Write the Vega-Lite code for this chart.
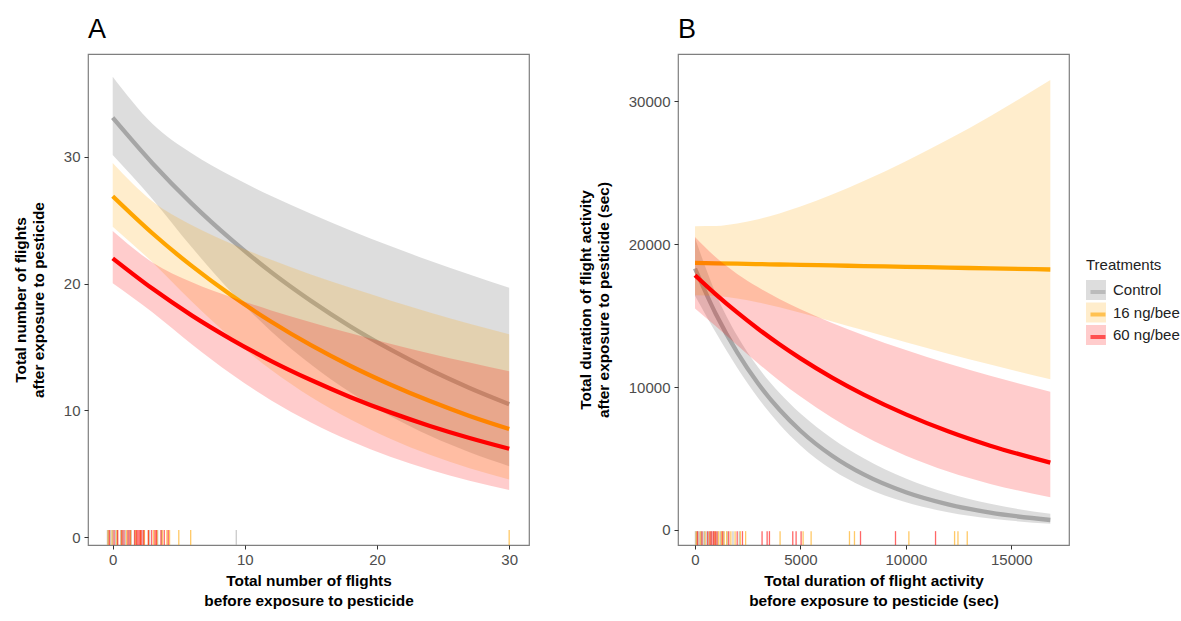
{
  "$schema": "https://vega.github.io/schema/vega-lite/v6.json",
  "background": "white",
  "padding": {"left": 13, "top": 15, "right": 0, "bottom": 0},
  "datasets": {
    "curvesA": [
      {"treatment": "Control", "x": 0, "fit": 33.10, "lo": 30.15, "hi": 36.34},
      {"treatment": "Control", "x": 3, "fit": 29.51, "lo": 26.69, "hi": 32.63},
      {"treatment": "Control", "x": 6, "fit": 26.30, "lo": 22.85, "hi": 30.27},
      {"treatment": "Control", "x": 9, "fit": 23.45, "lo": 19.31, "hi": 28.48},
      {"treatment": "Control", "x": 12, "fit": 20.90, "lo": 16.23, "hi": 26.92},
      {"treatment": "Control", "x": 15, "fit": 18.64, "lo": 13.62, "hi": 25.52},
      {"treatment": "Control", "x": 18, "fit": 16.61, "lo": 11.40, "hi": 24.20},
      {"treatment": "Control", "x": 21, "fit": 14.81, "lo": 9.55, "hi": 22.97},
      {"treatment": "Control", "x": 24, "fit": 13.20, "lo": 7.99, "hi": 21.81},
      {"treatment": "Control", "x": 27, "fit": 11.77, "lo": 6.69, "hi": 20.72},
      {"treatment": "Control", "x": 30, "fit": 10.49, "lo": 5.59, "hi": 19.68},
      {"treatment": "16 ng/bee", "x": 0, "fit": 26.90, "lo": 24.50, "hi": 29.53},
      {"treatment": "16 ng/bee", "x": 3, "fit": 23.98, "lo": 21.69, "hi": 26.51},
      {"treatment": "16 ng/bee", "x": 6, "fit": 21.38, "lo": 18.58, "hi": 24.61},
      {"treatment": "16 ng/bee", "x": 9, "fit": 19.06, "lo": 15.69, "hi": 23.15},
      {"treatment": "16 ng/bee", "x": 12, "fit": 16.99, "lo": 13.19, "hi": 21.88},
      {"treatment": "16 ng/bee", "x": 15, "fit": 15.14, "lo": 11.06, "hi": 20.73},
      {"treatment": "16 ng/bee", "x": 18, "fit": 13.50, "lo": 9.27, "hi": 19.67},
      {"treatment": "16 ng/bee", "x": 21, "fit": 12.04, "lo": 7.76, "hi": 18.68},
      {"treatment": "16 ng/bee", "x": 24, "fit": 10.73, "lo": 6.49, "hi": 17.73},
      {"treatment": "16 ng/bee", "x": 27, "fit": 9.56, "lo": 5.43, "hi": 16.83},
      {"treatment": "16 ng/bee", "x": 30, "fit": 8.53, "lo": 4.55, "hi": 16.00},
      {"treatment": "60 ng/bee", "x": 0, "fit": 22.00, "lo": 20.04, "hi": 24.15},
      {"treatment": "60 ng/bee", "x": 3, "fit": 19.61, "lo": 17.74, "hi": 21.68},
      {"treatment": "60 ng/bee", "x": 6, "fit": 17.48, "lo": 15.19, "hi": 20.12},
      {"treatment": "60 ng/bee", "x": 9, "fit": 15.59, "lo": 12.84, "hi": 18.93},
      {"treatment": "60 ng/bee", "x": 12, "fit": 13.89, "lo": 10.78, "hi": 17.89},
      {"treatment": "60 ng/bee", "x": 15, "fit": 12.39, "lo": 9.05, "hi": 16.96},
      {"treatment": "60 ng/bee", "x": 18, "fit": 11.04, "lo": 7.58, "hi": 16.08},
      {"treatment": "60 ng/bee", "x": 21, "fit": 9.84, "lo": 6.34, "hi": 15.26},
      {"treatment": "60 ng/bee", "x": 24, "fit": 8.77, "lo": 5.31, "hi": 14.49},
      {"treatment": "60 ng/bee", "x": 27, "fit": 7.82, "lo": 4.44, "hi": 13.77},
      {"treatment": "60 ng/bee", "x": 30, "fit": 6.97, "lo": 3.72, "hi": 13.08}
    ],
    "curvesB": [
      {"treatment": "Control", "x": 0, "fit": 18300, "lo": 16393, "hi": 20428},
      {"treatment": "Control", "x": 1000, "fit": 15078, "lo": 13780, "hi": 16498},
      {"treatment": "Control", "x": 2000, "fit": 12423, "lo": 11353, "hi": 13593},
      {"treatment": "Control", "x": 3000, "fit": 10235, "lo": 9215, "hi": 11368},
      {"treatment": "Control", "x": 4000, "fit": 8433, "lo": 7405, "hi": 9603},
      {"treatment": "Control", "x": 5000, "fit": 6948, "lo": 5920, "hi": 8153},
      {"treatment": "Control", "x": 6500, "fit": 5196, "lo": 4212, "hi": 6410},
      {"treatment": "Control", "x": 8000, "fit": 3886, "lo": 3011, "hi": 5015},
      {"treatment": "Control", "x": 10000, "fit": 2638, "lo": 1935, "hi": 3597},
      {"treatment": "Control", "x": 12000, "fit": 1790, "lo": 1249, "hi": 2566},
      {"treatment": "Control", "x": 14000, "fit": 1215, "lo": 806, "hi": 1831},
      {"treatment": "Control", "x": 16850, "fit": 700, "lo": 433, "hi": 1131},
      {"treatment": "16 ng/bee", "x": 0, "fit": 18690, "lo": 16432, "hi": 21260},
      {"treatment": "16 ng/bee", "x": 1000, "fit": 18663, "lo": 16375, "hi": 21271},
      {"treatment": "16 ng/bee", "x": 2000, "fit": 18636, "lo": 16198, "hi": 21441},
      {"treatment": "16 ng/bee", "x": 3000, "fit": 18608, "lo": 15925, "hi": 21743},
      {"treatment": "16 ng/bee", "x": 4000, "fit": 18581, "lo": 15586, "hi": 22152},
      {"treatment": "16 ng/bee", "x": 5000, "fit": 18554, "lo": 15206, "hi": 22639},
      {"treatment": "16 ng/bee", "x": 6500, "fit": 18513, "lo": 14596, "hi": 23480},
      {"treatment": "16 ng/bee", "x": 8000, "fit": 18472, "lo": 13971, "hi": 24423},
      {"treatment": "16 ng/bee", "x": 10000, "fit": 18417, "lo": 13142, "hi": 25810},
      {"treatment": "16 ng/bee", "x": 12000, "fit": 18362, "lo": 12339, "hi": 27324},
      {"treatment": "16 ng/bee", "x": 14000, "fit": 18308, "lo": 11574, "hi": 28960},
      {"treatment": "16 ng/bee", "x": 16850, "fit": 18230, "lo": 10552, "hi": 31496},
      {"treatment": "60 ng/bee", "x": 0, "fit": 17830, "lo": 15501, "hi": 20510},
      {"treatment": "60 ng/bee", "x": 1000, "fit": 16475, "lo": 14236, "hi": 19067},
      {"treatment": "60 ng/bee", "x": 2000, "fit": 15224, "lo": 12932, "hi": 17923},
      {"treatment": "60 ng/bee", "x": 3000, "fit": 14068, "lo": 11655, "hi": 16981},
      {"treatment": "60 ng/bee", "x": 4000, "fit": 12999, "lo": 10448, "hi": 16173},
      {"treatment": "60 ng/bee", "x": 5000, "fit": 12012, "lo": 9335, "hi": 15456},
      {"treatment": "60 ng/bee", "x": 6500, "fit": 10669, "lo": 7853, "hi": 14494},
      {"treatment": "60 ng/bee", "x": 8000, "fit": 9477, "lo": 6589, "hi": 13631},
      {"treatment": "60 ng/bee", "x": 10000, "fit": 8092, "lo": 5201, "hi": 12589},
      {"treatment": "60 ng/bee", "x": 12000, "fit": 6909, "lo": 4098, "hi": 11648},
      {"treatment": "60 ng/bee", "x": 14000, "fit": 5900, "lo": 3227, "hi": 10788},
      {"treatment": "60 ng/bee", "x": 16850, "fit": 4710, "lo": 2292, "hi": 9678}
    ],
    "rugA": [
      {"treatment": "Control", "x": -0.4}, {"treatment": "Control", "x": -0.3}, {"treatment": "Control", "x": -0.15},
      {"treatment": "Control", "x": 0.0}, {"treatment": "Control", "x": 0.2}, {"treatment": "Control", "x": 0.35},
      {"treatment": "Control", "x": 0.6}, {"treatment": "Control", "x": 0.75}, {"treatment": "Control", "x": 0.95},
      {"treatment": "Control", "x": 1.2}, {"treatment": "Control", "x": 1.4}, {"treatment": "Control", "x": 1.7},
      {"treatment": "Control", "x": 2.3}, {"treatment": "Control", "x": 2.8}, {"treatment": "Control", "x": 3.4},
      {"treatment": "Control", "x": 3.7}, {"treatment": "Control", "x": 9.35},
      {"treatment": "16 ng/bee", "x": -0.35}, {"treatment": "16 ng/bee", "x": -0.05}, {"treatment": "16 ng/bee", "x": 0.3},
      {"treatment": "16 ng/bee", "x": 0.65}, {"treatment": "16 ng/bee", "x": 1.05}, {"treatment": "16 ng/bee", "x": 1.35},
      {"treatment": "16 ng/bee", "x": 1.75}, {"treatment": "16 ng/bee", "x": 2.1}, {"treatment": "16 ng/bee", "x": 2.4},
      {"treatment": "16 ng/bee", "x": 2.7}, {"treatment": "16 ng/bee", "x": 3.1}, {"treatment": "16 ng/bee", "x": 3.35},
      {"treatment": "16 ng/bee", "x": 3.75}, {"treatment": "16 ng/bee", "x": 4.1}, {"treatment": "16 ng/bee", "x": 4.3},
      {"treatment": "16 ng/bee", "x": 5.0}, {"treatment": "16 ng/bee", "x": 5.9}, {"treatment": "16 ng/bee", "x": 30.0},
      {"treatment": "60 ng/bee", "x": -0.25}, {"treatment": "60 ng/bee", "x": 0.1}, {"treatment": "60 ng/bee", "x": 0.38},
      {"treatment": "60 ng/bee", "x": 0.7}, {"treatment": "60 ng/bee", "x": 0.85}, {"treatment": "60 ng/bee", "x": 1.15},
      {"treatment": "60 ng/bee", "x": 1.3}, {"treatment": "60 ng/bee", "x": 1.65}, {"treatment": "60 ng/bee", "x": 1.8},
      {"treatment": "60 ng/bee", "x": 1.9}, {"treatment": "60 ng/bee", "x": 2.0}, {"treatment": "60 ng/bee", "x": 2.1},
      {"treatment": "60 ng/bee", "x": 2.2}, {"treatment": "60 ng/bee", "x": 2.35}, {"treatment": "60 ng/bee", "x": 2.7},
      {"treatment": "60 ng/bee", "x": 2.95}, {"treatment": "60 ng/bee", "x": 3.2}, {"treatment": "60 ng/bee", "x": 3.3},
      {"treatment": "60 ng/bee", "x": 3.65}, {"treatment": "60 ng/bee", "x": 3.9}, {"treatment": "60 ng/bee", "x": 4.2}
    ],
    "rugB": [
      {"treatment": "Control", "x": 20}, {"treatment": "Control", "x": 80}, {"treatment": "Control", "x": 150},
      {"treatment": "Control", "x": 230}, {"treatment": "Control", "x": 300}, {"treatment": "Control", "x": 380},
      {"treatment": "Control", "x": 450}, {"treatment": "Control", "x": 560}, {"treatment": "Control", "x": 650},
      {"treatment": "Control", "x": 780}, {"treatment": "Control", "x": 900}, {"treatment": "Control", "x": 1050},
      {"treatment": "Control", "x": 1200}, {"treatment": "Control", "x": 1350}, {"treatment": "Control", "x": 1550},
      {"treatment": "Control", "x": 1800}, {"treatment": "Control", "x": 2100},
      {"treatment": "16 ng/bee", "x": 60}, {"treatment": "16 ng/bee", "x": 250}, {"treatment": "16 ng/bee", "x": 480},
      {"treatment": "16 ng/bee", "x": 700}, {"treatment": "16 ng/bee", "x": 950}, {"treatment": "16 ng/bee", "x": 1120},
      {"treatment": "16 ng/bee", "x": 1250}, {"treatment": "16 ng/bee", "x": 1380}, {"treatment": "16 ng/bee", "x": 1500},
      {"treatment": "16 ng/bee", "x": 1700}, {"treatment": "16 ng/bee", "x": 1900}, {"treatment": "16 ng/bee", "x": 2150},
      {"treatment": "16 ng/bee", "x": 2400}, {"treatment": "16 ng/bee", "x": 4034}, {"treatment": "16 ng/bee", "x": 5126},
      {"treatment": "16 ng/bee", "x": 5506}, {"treatment": "16 ng/bee", "x": 7325}, {"treatment": "16 ng/bee", "x": 7562},
      {"treatment": "16 ng/bee", "x": 10142}, {"treatment": "16 ng/bee", "x": 12310}, {"treatment": "16 ng/bee", "x": 12470},
      {"treatment": "16 ng/bee", "x": 12910},
      {"treatment": "60 ng/bee", "x": 120}, {"treatment": "60 ng/bee", "x": 330}, {"treatment": "60 ng/bee", "x": 600},
      {"treatment": "60 ng/bee", "x": 720}, {"treatment": "60 ng/bee", "x": 800}, {"treatment": "60 ng/bee", "x": 880},
      {"treatment": "60 ng/bee", "x": 960}, {"treatment": "60 ng/bee", "x": 1040}, {"treatment": "60 ng/bee", "x": 1300},
      {"treatment": "60 ng/bee", "x": 1600}, {"treatment": "60 ng/bee", "x": 2000}, {"treatment": "60 ng/bee", "x": 2250},
      {"treatment": "60 ng/bee", "x": 3180}, {"treatment": "60 ng/bee", "x": 3420}, {"treatment": "60 ng/bee", "x": 3530},
      {"treatment": "60 ng/bee", "x": 4636}, {"treatment": "60 ng/bee", "x": 4794}, {"treatment": "60 ng/bee", "x": 5031},
      {"treatment": "60 ng/bee", "x": 7848}, {"treatment": "60 ng/bee", "x": 9508}, {"treatment": "60 ng/bee", "x": 11407}
    ]
  },
  "hconcat": [
    {
      "width": 441,
      "height": 491,
      "title": {"text": "A"},
      "data": {"name": "curvesA"},
      "encoding": {
        "x": {"field": "x", "type": "quantitative", "scale": {"domain": [-1.87, 31.5], "nice": false, "zero": false},
          "axis": {"values": [0, 10, 20, 30], "format": "d", "title": ["Total number of flights", "before exposure to pesticide"]}}
      },
      "layer": [
        {"transform": [{"filter": "datum.treatment === 'Control'"}],
          "mark": {"type": "area", "opacity": 0.2, "interpolate": "monotone"},
          "encoding": {
            "y": {"field": "lo", "type": "quantitative", "scale": {"domain": [-0.63, 38.13], "nice": false, "zero": false},
              "axis": {"values": [0, 10, 20, 30], "format": "d", "title": ["Total number of flights", "after exposure to pesticide"]}},
            "y2": {"field": "hi"},
            "fill": {"field": "treatment", "type": "nominal", "scale": {"domain": ["Control", "16 ng/bee", "60 ng/bee"], "range": ["#555555", "#FFA500", "#FF0000"]},
              "legend": {"title": "Treatments", "orient": "none", "legendX": 998, "legendY": 204, "symbolType": "square", "symbolSize": 400, "symbolOpacity": 0.2, "symbolStrokeWidth": 0}}
          }},
        {"transform": [{"filter": "datum.treatment === 'Control'"}],
          "mark": {"type": "line", "strokeWidth": 4.3, "interpolate": "monotone"},
          "encoding": {
            "y": {"field": "fit", "type": "quantitative", "scale": {"domain": [-0.63, 38.13], "nice": false, "zero": false}},
            "stroke": {"field": "treatment", "type": "nominal", "sort": ["Control", "16 ng/bee", "60 ng/bee"], "scale": {"range": ["#A6A6A6", "#FFA500", "#FF0000"]},
              "legend": {"title": null, "orient": "none", "legendX": 998, "legendY": 226, "symbolType": "M-0.75,0H0.75", "symbolSize": 400, "symbolStrokeWidth": 4, "labelExpr": "''"}}
          }},
        {"transform": [{"filter": "datum.treatment === '16 ng/bee'"}],
          "mark": {"type": "area", "opacity": 0.2, "interpolate": "monotone"},
          "encoding": {
            "y": {"field": "lo", "type": "quantitative", "scale": {"domain": [-0.63, 38.13], "nice": false, "zero": false}},
            "y2": {"field": "hi"},
            "fill": {"field": "treatment", "type": "nominal", "scale": {"domain": ["Control", "16 ng/bee", "60 ng/bee"], "range": ["#555555", "#FFA500", "#FF0000"]}}
          }},
        {"transform": [{"filter": "datum.treatment === '16 ng/bee'"}],
          "mark": {"type": "line", "strokeWidth": 4.3, "interpolate": "monotone"},
          "encoding": {
            "y": {"field": "fit", "type": "quantitative", "scale": {"domain": [-0.63, 38.13], "nice": false, "zero": false}},
            "stroke": {"field": "treatment", "type": "nominal", "sort": ["Control", "16 ng/bee", "60 ng/bee"]}
          }},
        {"transform": [{"filter": "datum.treatment === '60 ng/bee'"}],
          "mark": {"type": "area", "opacity": 0.2, "interpolate": "monotone"},
          "encoding": {
            "y": {"field": "lo", "type": "quantitative", "scale": {"domain": [-0.63, 38.13], "nice": false, "zero": false}},
            "y2": {"field": "hi"},
            "fill": {"field": "treatment", "type": "nominal", "scale": {"domain": ["Control", "16 ng/bee", "60 ng/bee"], "range": ["#555555", "#FFA500", "#FF0000"]}}
          }},
        {"transform": [{"filter": "datum.treatment === '60 ng/bee'"}],
          "mark": {"type": "line", "strokeWidth": 4.3, "interpolate": "monotone"},
          "encoding": {
            "y": {"field": "fit", "type": "quantitative", "scale": {"domain": [-0.63, 38.13], "nice": false, "zero": false}},
            "stroke": {"field": "treatment", "type": "nominal", "sort": ["Control", "16 ng/bee", "60 ng/bee"]}
          }},
        {"data": {"name": "rugA"},
          "mark": {"type": "rule", "strokeWidth": 1.3, "opacity": 0.6},
          "encoding": {
            "y": {"datum": -0.63, "type": "quantitative", "scale": {"domain": [-0.63, 38.13], "nice": false, "zero": false}},
            "y2": {"datum": 0.55},
            "stroke": {"field": "treatment", "type": "nominal", "sort": ["Control", "16 ng/bee", "60 ng/bee"]}
          }}
      ]
    },
    {
      "width": 391,
      "height": 491,
      "title": {"text": "B"},
      "data": {"name": "curvesB"},
      "encoding": {
        "x": {"field": "x", "type": "quantitative", "scale": {"domain": [-807, 17736], "nice": false, "zero": false},
          "axis": {"values": [0, 5000, 10000, 15000], "format": "d", "title": ["Total duration of flight activity", "before exposure to pesticide (sec)"]}}
      },
      "layer": [
        {"transform": [{"filter": "datum.treatment === 'Control'"}],
          "mark": {"type": "area", "opacity": 0.2, "interpolate": "monotone"},
          "encoding": {
            "y": {"field": "lo", "type": "quantitative", "scale": {"domain": [-1050, 33310], "nice": false, "zero": false},
              "axis": {"values": [0, 10000, 20000, 30000], "format": "d", "title": ["Total duration of flight activity", "after exposure to pesticide (sec)"]}},
            "y2": {"field": "hi"},
            "fill": {"field": "treatment", "type": "nominal", "scale": {"domain": ["Control", "16 ng/bee", "60 ng/bee"], "range": ["#555555", "#FFA500", "#FF0000"]}}
          }},
        {"transform": [{"filter": "datum.treatment === 'Control'"}],
          "mark": {"type": "line", "strokeWidth": 4.3, "interpolate": "monotone"},
          "encoding": {
            "y": {"field": "fit", "type": "quantitative", "scale": {"domain": [-1050, 33310], "nice": false, "zero": false}},
            "stroke": {"field": "treatment", "type": "nominal", "sort": ["Control", "16 ng/bee", "60 ng/bee"]}
          }},
        {"transform": [{"filter": "datum.treatment === '16 ng/bee'"}],
          "mark": {"type": "area", "opacity": 0.2, "interpolate": "monotone"},
          "encoding": {
            "y": {"field": "lo", "type": "quantitative", "scale": {"domain": [-1050, 33310], "nice": false, "zero": false}},
            "y2": {"field": "hi"},
            "fill": {"field": "treatment", "type": "nominal", "scale": {"domain": ["Control", "16 ng/bee", "60 ng/bee"], "range": ["#555555", "#FFA500", "#FF0000"]}}
          }},
        {"transform": [{"filter": "datum.treatment === '16 ng/bee'"}],
          "mark": {"type": "line", "strokeWidth": 4.3, "interpolate": "monotone"},
          "encoding": {
            "y": {"field": "fit", "type": "quantitative", "scale": {"domain": [-1050, 33310], "nice": false, "zero": false}},
            "stroke": {"field": "treatment", "type": "nominal", "sort": ["Control", "16 ng/bee", "60 ng/bee"]}
          }},
        {"transform": [{"filter": "datum.treatment === '60 ng/bee'"}],
          "mark": {"type": "area", "opacity": 0.2, "interpolate": "monotone"},
          "encoding": {
            "y": {"field": "lo", "type": "quantitative", "scale": {"domain": [-1050, 33310], "nice": false, "zero": false}},
            "y2": {"field": "hi"},
            "fill": {"field": "treatment", "type": "nominal", "scale": {"domain": ["Control", "16 ng/bee", "60 ng/bee"], "range": ["#555555", "#FFA500", "#FF0000"]}}
          }},
        {"transform": [{"filter": "datum.treatment === '60 ng/bee'"}],
          "mark": {"type": "line", "strokeWidth": 4.3, "interpolate": "monotone"},
          "encoding": {
            "y": {"field": "fit", "type": "quantitative", "scale": {"domain": [-1050, 33310], "nice": false, "zero": false}},
            "stroke": {"field": "treatment", "type": "nominal", "sort": ["Control", "16 ng/bee", "60 ng/bee"]}
          }},
        {"data": {"name": "rugB"},
          "mark": {"type": "rule", "strokeWidth": 1.3, "opacity": 0.6},
          "encoding": {
            "y": {"datum": -1050, "type": "quantitative", "scale": {"domain": [-1050, 33310], "nice": false, "zero": false}},
            "y2": {"datum": -80},
            "stroke": {"field": "treatment", "type": "nominal", "sort": ["Control", "16 ng/bee", "60 ng/bee"]}
          }}
      ]
    }
  ],
  "spacing": 48,
  "config": {
    "view": {"stroke": "#7f7f7f", "strokeWidth": 1.2},
    "axis": {
      "domain": false, "grid": false, "tickColor": "#333333", "tickSize": 4, "tickWidth": 1,
      "labelFont": "Liberation Sans", "labelFontSize": 15, "labelColor": "#4d4d4d",
      "titleFont": "Liberation Sans", "titleFontSize": 15.4, "titleFontWeight": "bold", "titleColor": "#000000"
    },
    "axisX": {"labelPadding": 3, "titlePadding": 6, "titleLineHeight": 20},
    "axisY": {"labelPadding": 4, "titlePadding": 17, "titleLineHeight": 17.5},
    "legend": {
      "labelFont": "Liberation Sans", "labelFontSize": 15, "labelColor": "#222222",
      "titleFont": "Liberation Sans", "titleFontSize": 15, "titleFontWeight": "normal", "titleColor": "#222222",
      "rowPadding": 2.5, "titlePadding": 7, "labelOffset": 7
    },
    "title": {"font": "Liberation Sans", "fontSize": 27, "fontWeight": "normal", "anchor": "start", "frame": "group", "offset": 10, "color": "#000000"}
  }
}
